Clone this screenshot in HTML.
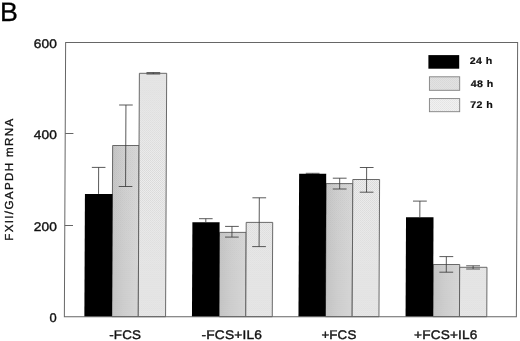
<!DOCTYPE html>
<html><head><meta charset="utf-8"><title>B</title>
<style>
html,body{margin:0;padding:0;background:#fff;}
body{width:520px;height:341px;overflow:hidden;}
svg{display:block;}
text{font-family:"Liberation Sans",Arial,Helvetica,sans-serif;fill:#111;text-rendering:geometricPrecision;}
.t{font-size:12.5px;letter-spacing:0.15px;stroke:#111;stroke-width:0.38px;}
.lg{font-size:9.6px;font-weight:bold;letter-spacing:0.35px;stroke:#111;stroke-width:0.2px;}
.yl{stroke:#111;stroke-width:0.3px;}
</style></head><body>
<svg width="520" height="341" viewBox="0 0 520 341">
<defs>
<linearGradient id="g48" x1="0" y1="0" x2="1" y2="0"><stop offset="0" stop-color="#c8c8c8"/><stop offset="0.45" stop-color="#d2d2d2"/><stop offset="1" stop-color="#dadada"/></linearGradient>
<pattern id="p48" width="2" height="2" patternUnits="userSpaceOnUse"><rect width="1" height="1" fill="#000" fill-opacity="0.05"/><rect x="1" y="1" width="1" height="1" fill="#000" fill-opacity="0.035"/></pattern>
<pattern id="p72" width="2" height="2" patternUnits="userSpaceOnUse"><rect width="2" height="2" fill="#f0f0f0"/><rect width="1" height="1" fill="#d6d6d6"/><rect x="1" y="1" width="1" height="1" fill="#dadada"/></pattern>
<pattern id="p48l" width="2" height="2" patternUnits="userSpaceOnUse"><rect width="2" height="2" fill="#e2e2e2"/><rect width="1" height="1" fill="#d8d8d8"/><rect x="1" y="1" width="1" height="1" fill="#dadada"/></pattern>
<pattern id="p72l" width="2" height="2" patternUnits="userSpaceOnUse"><rect width="2" height="2" fill="#f1f1f1"/><rect width="1" height="1" fill="#e4e4e4"/><rect x="1" y="1" width="1" height="1" fill="#e7e7e7"/></pattern>
</defs>
<rect width="520" height="341" fill="#fff"/>

<text transform="translate(-0.1,20.7) scale(1.01,1)" font-size="26.6" style="fill:#000;stroke:#000;stroke-width:0.3px">B</text>
<g transform="matrix(1,0,-0.0046,1,0.8234,0)">
<rect x="112.5" y="145.5" width="26.4" height="171.2" fill="url(#g48)"/>
<rect x="112.5" y="145.5" width="26.4" height="171.2" fill="url(#p48)" stroke="#5a5a5a" stroke-width="0.9"/>
<rect x="138.9" y="73.3" width="27.3" height="243.4" fill="url(#p72)" stroke="#5a5a5a" stroke-width="0.9"/>
<rect x="219.7" y="232.4" width="26.7" height="84.3" fill="url(#g48)"/>
<rect x="219.7" y="232.4" width="26.7" height="84.3" fill="url(#p48)" stroke="#5a5a5a" stroke-width="0.9"/>
<rect x="246.4" y="222.4" width="26.5" height="94.3" fill="url(#p72)" stroke="#5a5a5a" stroke-width="0.9"/>
<rect x="326.1" y="183.6" width="26.7" height="133.1" fill="url(#g48)"/>
<rect x="326.1" y="183.6" width="26.7" height="133.1" fill="url(#p48)" stroke="#5a5a5a" stroke-width="0.9"/>
<rect x="352.8" y="179.5" width="26.8" height="137.2" fill="url(#p72)" stroke="#5a5a5a" stroke-width="0.9"/>
<rect x="433.6" y="264.5" width="26.5" height="52.2" fill="url(#g48)"/>
<rect x="433.6" y="264.5" width="26.5" height="52.2" fill="url(#p48)" stroke="#5a5a5a" stroke-width="0.9"/>
<rect x="460.1" y="267.3" width="27.3" height="49.4" fill="url(#p72)" stroke="#5a5a5a" stroke-width="0.9"/>
<rect x="85.0" y="193.9" width="27.6" height="122.8" fill="#000"/>
<rect x="192.6" y="222.2" width="27.2" height="94.5" fill="#000"/>
<rect x="299.1" y="173.7" width="27.1" height="143.0" fill="#000"/>
<rect x="406.2" y="217.2" width="27.5" height="99.5" fill="#000"/>
<path d="M91.8,167.4 H105.4 M98.6,167.4 V193.9" stroke="#3c3c3c" stroke-width="0.85" fill="none"/>
<path d="M118.8,105.0 H132.4 M118.8,186.5 H132.4 M125.6,105.0 V186.5" stroke="#3c3c3c" stroke-width="0.85" fill="none"/>
<path d="M146.0,72.6 H159.7 M146.0,74.0 H159.7 M152.8,72.6 V74.0" stroke="#3c3c3c" stroke-width="0.85" fill="none"/>
<path d="M199.2,218.7 H212.8 M206.0,218.7 V222.2" stroke="#3c3c3c" stroke-width="0.85" fill="none"/>
<path d="M225.3,226.4 H239.0 M225.3,237.1 H239.0 M232.2,226.4 V237.1" stroke="#3c3c3c" stroke-width="0.85" fill="none"/>
<path d="M252.5,197.8 H266.2 M252.5,246.6 H266.2 M259.4,197.8 V246.6" stroke="#3c3c3c" stroke-width="0.85" fill="none"/>
<path d="M305.8,173.3 H319.5 M312.6,173.3 V173.7" stroke="#3c3c3c" stroke-width="0.85" fill="none"/>
<path d="M332.8,178.2 H346.6 M332.8,189.0 H346.6 M339.7,178.2 V189.0" stroke="#3c3c3c" stroke-width="0.85" fill="none"/>
<path d="M359.8,167.5 H373.5 M359.8,192.2 H373.5 M366.6,167.5 V192.2" stroke="#3c3c3c" stroke-width="0.85" fill="none"/>
<path d="M413.1,201.1 H426.9 M420.0,201.1 V217.2" stroke="#3c3c3c" stroke-width="0.85" fill="none"/>
<path d="M439.8,256.6 H453.6 M439.8,272.2 H453.6 M446.7,256.6 V272.2" stroke="#3c3c3c" stroke-width="0.85" fill="none"/>
<path d="M466.6,265.8 H480.4 M466.6,269.0 H480.4 M473.5,265.8 V269.0" stroke="#3c3c3c" stroke-width="0.85" fill="none"/>
<rect x="65.0" y="42.5" width="452.0" height="274.2" fill="none" stroke="#666" stroke-width="1"/>
<path d="M65.0,225.5 h8.2" stroke="#666" stroke-width="1"/>
<path d="M65.0,133.5 h8.2" stroke="#666" stroke-width="1"/>
</g>
<text class="t" transform="translate(57.0,47.7) scale(1.095,1)" text-anchor="end">600</text>
<text class="t" transform="translate(57.0,139.3) scale(1.095,1)" text-anchor="end">400</text>
<text class="t" transform="translate(57.0,231.2) scale(1.095,1)" text-anchor="end">200</text>
<text class="t" transform="translate(56.7,322.0) scale(1.03,1)" text-anchor="end">0</text>
<text class="t" transform="translate(125.1,338.5) scale(1.07,1)" text-anchor="middle">-FCS</text>
<text class="t" transform="translate(231.8,338.5) scale(1.1,1)" text-anchor="middle">-FCS+IL6</text>
<text class="t" transform="translate(338.9,338.5) scale(1.065,1)" text-anchor="middle">+FCS</text>
<text class="t" transform="translate(445.75,338.5) scale(1.09,1)" text-anchor="middle">+FCS+IL6</text>
<text class="yl" transform="translate(12.5,240.8) rotate(-90)" font-size="11.6" textLength="122" lengthAdjust="spacing">FXII/GAPDH mRNA</text>
<rect x="428.4" y="55.1" width="30.8" height="13.6" fill="#000"/>
<rect x="429.4" y="76.8" width="30.3" height="13.5" fill="url(#p48l)" stroke="#808080" stroke-width="0.9"/>
<rect x="429.4" y="98.6" width="30.3" height="13.1" fill="url(#p72l)" stroke="#808080" stroke-width="0.9"/>
<text class="lg" transform="translate(469.7,64.3) scale(1.109,1)">24 h</text>
<text class="lg" transform="translate(470.7,86.8) scale(1.109,1)">48 h</text>
<text class="lg" transform="translate(470.3,107.8) scale(1.109,1)">72 h</text>
</svg></body></html>
